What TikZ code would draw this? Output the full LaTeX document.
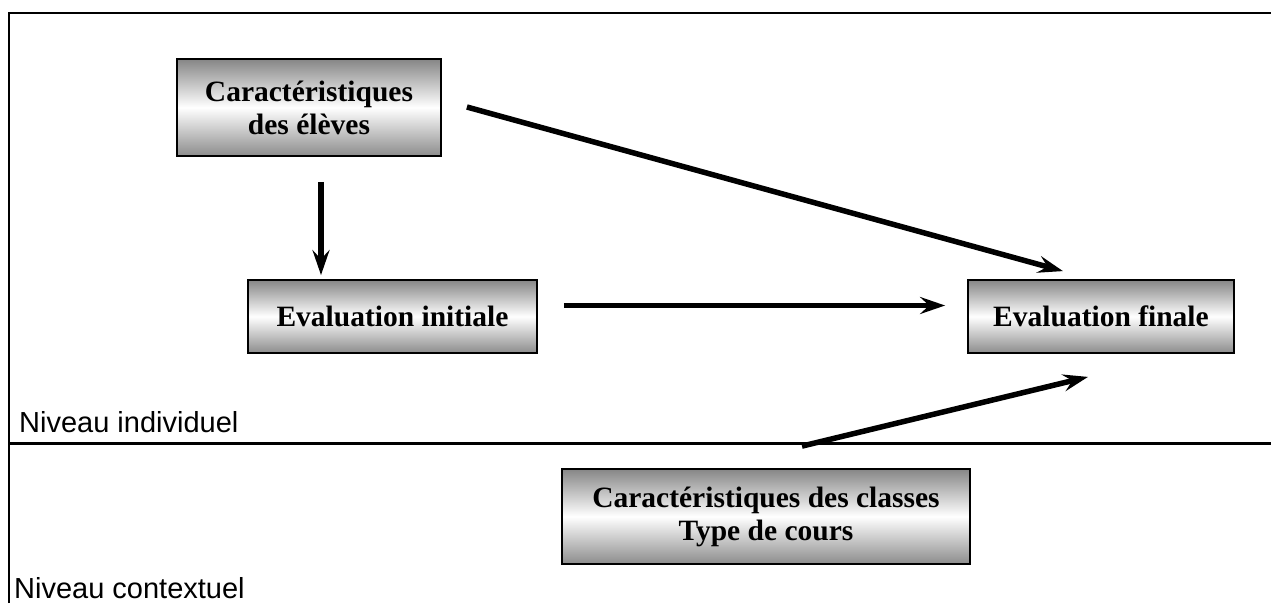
\documentclass[tikz,border=0pt]{standalone}
\usepackage{fontspec}
\setmainfont{Liberation Serif}
\newfontfamily\labelfont{Liberation Sans}
\usetikzlibrary{arrows.meta,positioning}

\tikzset{
  boxnode/.style={draw,line width=1.8pt,top color=gray!95,bottom color=gray!110!black,middle color=white,
    align=center,inner sep=0pt,font=\fontsize{29.5}{33}\selectfont\bfseries},
  arr/.style={line width=5.5pt,-{Stealth[length=25pt,width=17pt,inset=9pt]}},
  levellabel/.style={anchor=base west,inner sep=0pt,font=\labelfont\fontsize{29}{33}\selectfont}
}

\begin{document}
\begin{tikzpicture}[x=1pt,y=-1pt]
\useasboundingbox (0,0) rectangle (1271,603);

%%%%%%%%%%%%%%%%%%%%%%%%%%
\draw [line width=2.5pt] (9,603) -- (9,13) -- (1271,13);
\draw [line width=3pt] (9,443) -- (1271,443);

\node [levellabel] (indiv) at (19,432) {Niveau individuel};
\node [levellabel] (context) at (14,598) {Niveau contextuel};
%%%%%%%%%%%%%%%%%%%%%%%%%%

\node [boxnode,minimum width=264pt,minimum height=97pt] (eleve) at (309,107.5) {Caractéristiques\\des élèves};
\node [boxnode,minimum width=289pt,minimum height=73pt] (init) at (392.5,316.5) {Evaluation initiale};
\node [boxnode,minimum width=266pt,minimum height=73pt] (final) at (1101,316.5) {Evaluation finale};
\node [boxnode,minimum width=408pt,minimum height=95pt] (classe) at (766,516.5) {Caractéristiques des classes\\Type de cours};

%%%%%%%%%%%%%%%%%%%%%%%%%%
\draw [arr] ([xshift=12pt,yshift=-25pt]eleve.south) -- ([xshift=-71.5pt,yshift=4pt]init.north);
\draw [arr] ([xshift=25pt,yshift=0.5pt]eleve.east) -- ([xshift=-38pt,yshift=8pt]final.north);
\draw [arr] ([xshift=26pt,yshift=11pt]init.east) -- ([xshift=-22pt,yshift=11pt]final.west);
\draw [arr] ([xshift=36pt,yshift=22pt]classe.north) -- ([xshift=-13pt,yshift=-23pt]final.south);
%%%%%%%%%%%%%%%%%%%%%%%%%%

\end{tikzpicture}
\end{document}
